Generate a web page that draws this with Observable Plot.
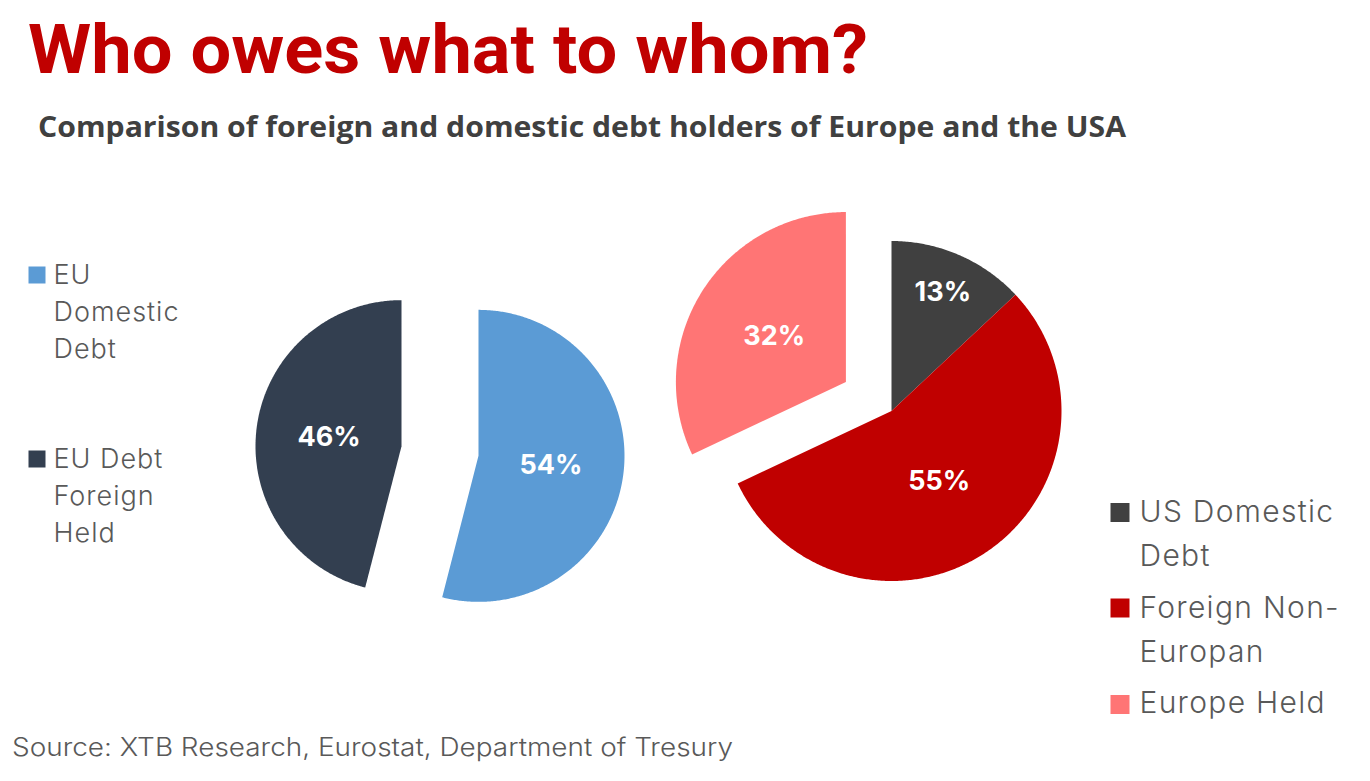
<!DOCTYPE html>
<html>
<head>
<meta charset="utf-8">
<script src="https://cdn.jsdelivr.net/npm/d3@7"></script>
<script src="https://cdn.jsdelivr.net/npm/@observablehq/plot@0.6"></script>
<style>
  html, body { margin: 0; padding: 0; background: #fff; }
  #wrap { position: relative; width: 1370px; height: 781px; overflow: hidden; background: #fff; }
  #chart { position: absolute; left: 0; top: 0; }
  .txt { position: absolute; margin: 0; white-space: nowrap; line-height: 1; transform-origin: 0 0; display: inline-block; z-index: 2; }
  #title { font-family: Roboto, sans-serif; font-weight: 700; font-size: 68px; color: #C00000; }
  #subtitle { font-family: "Open Sans", sans-serif; font-weight: 700; font-size: 29px; color: #404040; }
  #source { font-family: Inter, sans-serif; font-weight: 300; font-size: 25px; color: #595959; }
</style>
</head>
<body>
<div id="wrap">
  <div id="chart"></div>
  <h1 class="txt" id="title">Who owes what to whom?</h1>
  <h2 class="txt" id="subtitle">Comparison of foreign and domestic debt holders of Europe and the USA</h2>
  <p class="txt" id="source">Source: XTB Research, Eurostat, Department of Tresury</p>
</div>
<script>
// ---- data ----
const euCategories = ["EU Domestic Debt", "EU Debt Foreign Held"];
const euShares = [54, 46];
const usCategories = ["US Domestic Debt", "Foreign Non-Europan", "Europe Held"];
const usShares = [13, 55, 32];
const euLegendLabels = ["EU\nDomestic\nDebt", "EU Debt\nForeign\nHeld"];
const usLegendLabels = ["US Domestic\nDebt", "Foreign Non-\nEuropan", "Europe Held"];

// ---- styles / layout ----
const colorRange = ["#5B9BD5", "#333F50", "#404040", "#C00000", "#FF7575"];
const W = 1370, H = 781;
const euLayout = {cx: 439.5, cy: 450.5, r: 146, explode: [38.8, 38.8]};
const usLayout = {cx: 891, cy: 410.5, r: 170, explode: [0, 0, 54]};

function buildPie(cats, vals, L) {
  const arcs = d3.pie().sort(null).value(d => d)(vals);
  const pts = [], labels = [];
  arcs.forEach((a, i) => {
    const mid = (a.startAngle + a.endAngle) / 2;
    const ox = L.cx + L.explode[i] * Math.sin(mid);
    const oy = L.cy - L.explode[i] * Math.cos(mid);
    pts.push({key: cats[i], x: ox, y: oy});
    const n = Math.max(2, Math.ceil((a.endAngle - a.startAngle) / (Math.PI / 360)));
    for (let k = 0; k <= n; k++) {
      const t = a.startAngle + (a.endAngle - a.startAngle) * k / n;
      pts.push({key: cats[i], x: ox + L.r * Math.sin(t), y: oy - L.r * Math.cos(t)});
    }
    const f = vals[i] < 20 ? 0.76 : 0.5;
    labels.push({key: cats[i], text: vals[i] + "%", x: ox + f * L.r * Math.sin(mid), y: oy - f * L.r * Math.cos(mid)});
  });
  return {pts, labels};
}

const eu = buildPie(euCategories, euShares, euLayout);
const us = buildPie(usCategories, usShares, usLayout);

// legend layout
const euLegend = euCategories.map((c, i) => ({key: c, label: euLegendLabels[i], sx: 36.5, sy: [274.5, 458.5][i], tx: 53, base: [284, 468][i]}));
const usLegend = usCategories.map((c, i) => ({key: c, label: usLegendLabels[i], sx: 1119.5, sy: [512, 607.5, 704][i], tx: 1139, base: [522, 618, 713][i]}));

const euFs = 27, euLH = 37 / 27;
const usFs = 30, usLH = 43.5 / 30;

const chart = Plot.plot({
  width: W, height: H,
  margin: 0,
  x: {domain: [0, W], range: [0, W], axis: null},
  y: {domain: [0, H], range: [0, H], axis: null},
  color: {domain: [...euCategories, ...usCategories], range: colorRange},
  marks: [
    Plot.line(eu.pts, {x: "x", y: "y", z: "key", fill: "key", stroke: "none", curve: "linear-closed"}),
    Plot.line(us.pts, {x: "x", y: "y", z: "key", fill: "key", stroke: "none", curve: "linear-closed"}),
    Plot.text([...eu.labels, ...us.labels], {x: "x", y: "y", text: "text", fill: "white", fontSize: 27, fontWeight: 700, fontFamily: "Inter, sans-serif", textAnchor: "middle", lineAnchor: "middle"}),
    Plot.dot(euLegend, {x: "sx", y: "sy", fill: "key", symbol: "square", r: 17 / Math.sqrt(Math.PI), stroke: "none"}),
    Plot.dot(usLegend, {x: "sx", y: "sy", fill: "key", symbol: "square", r: 19 / Math.sqrt(Math.PI), stroke: "none"}),
    Plot.text(euLegend, {x: "tx", y: d => d.base - 0.71 * euLH * euFs, text: "label", textAnchor: "start", lineAnchor: "top", lineHeight: euLH, fontSize: euFs, fontWeight: 300, fontFamily: "Inter, sans-serif", fill: "#595959"}),
    Plot.text(usLegend, {x: "tx", y: d => d.base - 0.71 * usLH * usFs, text: "label", textAnchor: "start", lineAnchor: "top", lineHeight: usLH, fontSize: usFs, fontWeight: 300, fontFamily: "Inter, sans-serif", fill: "#595959"})
  ]
});
// widen legend lettering slightly
const textGroups = chart.querySelectorAll('g[aria-label="text"]');
if (textGroups.length >= 3) {
  textGroups[1].style.letterSpacing = "1px";
  textGroups[2].style.letterSpacing = "1.3px";
}
document.getElementById("chart").appendChild(chart);

// place HTML texts by baseline and fit widths
const wrap = document.getElementById("wrap");
function place(id, x, baseline, targetWidth) {
  const el = document.getElementById(id);
  let m = el.querySelector(".bm");
  if (!m) {
    m = document.createElement("span");
    m.className = "bm";
    m.style.cssText = "display:inline-block;width:0;height:0;vertical-align:baseline";
    el.appendChild(m);
  }
  el.style.left = x + "px";
  el.style.top = "0px";
  el.style.transform = "none";
  const wr = wrap.getBoundingClientRect();
  const r = el.getBoundingClientRect();
  const b = m.getBoundingClientRect().top - wr.top;
  el.style.top = (baseline - b) + "px";
  if (targetWidth) {
    const s = targetWidth / r.width;
    el.style.transform = `scaleX(${s})`;
  }
}
function layout() {
  place("title", 28, 73, 840);
  place("subtitle", 38, 137, 1088);
  place("source", 12, 756, 721);
}
layout();
if (document.fonts && document.fonts.ready) document.fonts.ready.then(layout);
</script>
</body>
</html>
